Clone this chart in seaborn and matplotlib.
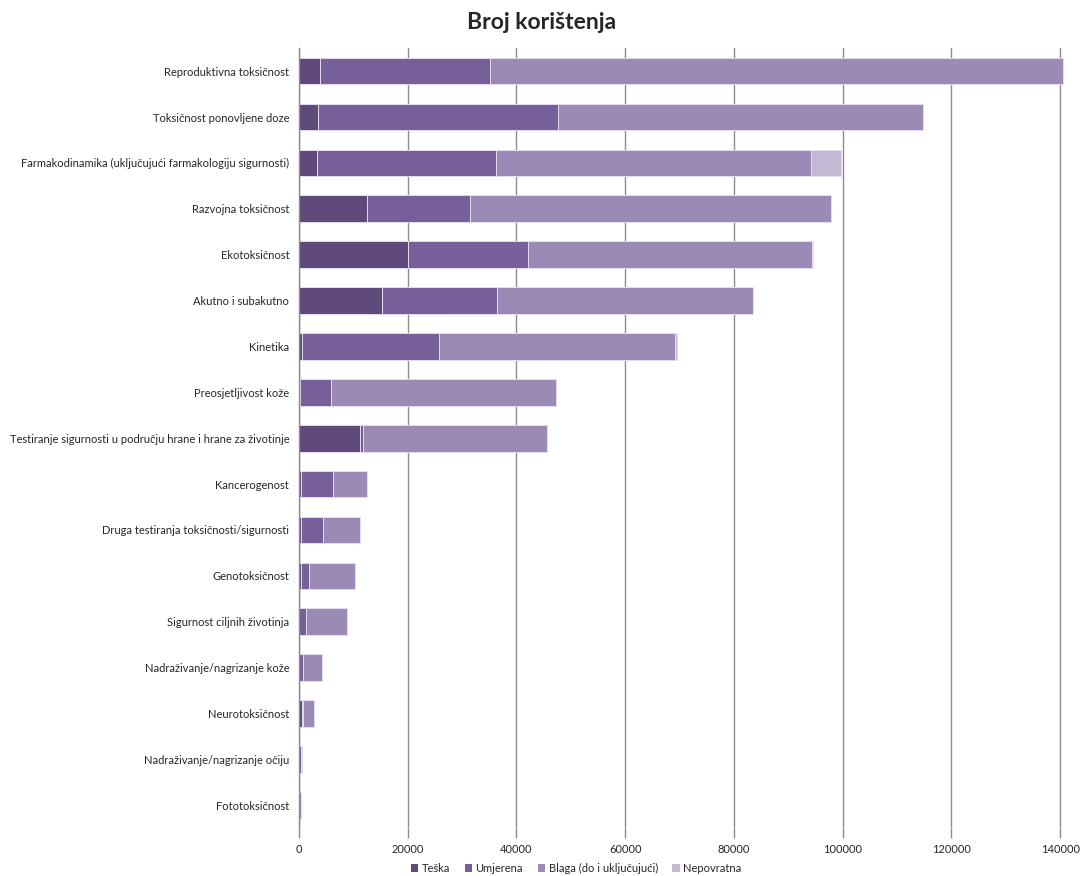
import matplotlib
matplotlib.use("Agg")
import matplotlib.pyplot as plt
import seaborn as sns
import pandas as pd
import numpy as np
from matplotlib.patches import Patch

categories = [
    "Reproduktivna toksičnost",
    "Toksičnost ponovljene doze",
    "Farmakodinamika (uključujući farmakologiju sigurnosti)",
    "Razvojna toksičnost",
    "Ekotoksičnost",
    "Akutno i subakutno",
    "Kinetika",
    "Preosjetljivost kože",
    "Testiranje sigurnosti u području hrane i hrane za životinje",
    "Kancerogenost",
    "Druga testiranja toksičnosti/sigurnosti",
    "Genotoksičnost",
    "Sigurnost ciljnih životinja",
    "Nadraživanje/nagrizanje kože",
    "Neurotoksičnost",
    "Nadraživanje/nagrizanje očiju",
    "Fototoksičnost",
]
teska      = [3900, 3500, 3400, 12500, 20000, 15200, 550, 200, 11200, 300, 450, 400, 100, 100, 600, 100, 0]
umjerena   = [31200, 44200, 32900, 18900, 22100, 21300, 25300, 5700, 500, 5900, 3950, 1500, 1250, 650, 100, 300, 50]
blaga      = [105400, 67000, 57800, 66400, 52200, 47000, 43400, 41400, 34000, 6300, 6900, 8400, 7550, 3450, 2100, 250, 400]
nepovratna = [100, 0, 5500, 0, 300, 0, 200, 0, 0, 0, 0, 0, 0, 0, 0, 0, 0]

series_names = ["Teška", "Umjerena", "Blaga (do i uključujući)", "Nepovratna"]
colors = ["#604a7b", "#775f9a", "#9b8ab5", "#c3b9d5"]
xticks = [0, 20000, 40000, 60000, 80000, 100000, 120000, 140000]

sns.set_theme(style="white")
plt.rcParams["font.family"] = ["Lato", "DejaVu Sans"]

df = pd.DataFrame({"cat": categories, "Teška": teska, "Umjerena": umjerena,
                   "Blaga (do i uključujući)": blaga, "Nepovratna": nepovratna})
cum = df[series_names].cumsum(axis=1)

fig = plt.figure(figsize=(10.83, 8.76), dpi=100)
ax = fig.add_axes([0.276, 0.0545, 0.708, 0.8905])

for name, col in reversed(list(zip(series_names, colors))):
    sns.barplot(x=cum[name], y=df["cat"], orient="h", color=col, ax=ax,
                width=0.58, edgecolor="#e4def0", linewidth=0.7, saturation=1, zorder=3)

ax.set_xlim(0, 141000)
ax.set_xticks(xticks)
ax.set_xticklabels([str(t) for t in xticks], fontsize=8)
ax.set_ylim(len(categories) - 0.5, -0.5)
ax.set_xlabel("")
ax.set_ylabel("")
ax.tick_params(axis="y", length=0, labelsize=8, pad=7)
ax.tick_params(axis="x", length=7, color="#8c8c8c", width=1, direction="out", pad=4, bottom=True)
ax.xaxis.grid(True, color="#8c8c8c", linewidth=1, zorder=0)
ax.set_axisbelow(True)
for s in ["top", "right", "bottom"]:
    ax.spines[s].set_visible(False)
ax.spines["left"].set_color("#8c8c8c")
ax.spines["left"].set_linewidth(1)
ax.spines["left"].set_zorder(5)

fig.suptitle("Broj korištenja", x=0.5, y=0.986, fontsize=16.5, fontweight="bold")

handles = [Patch(facecolor=c, edgecolor="none") for c in colors]
fig.legend(handles, series_names, loc="lower center", ncol=4, frameon=False,
           fontsize=8, bbox_to_anchor=(0.532, -0.009), handlelength=0.7, handleheight=0.7,
           columnspacing=1.3, handletextpad=0.3)

fig.savefig("out.png", dpi=100)
